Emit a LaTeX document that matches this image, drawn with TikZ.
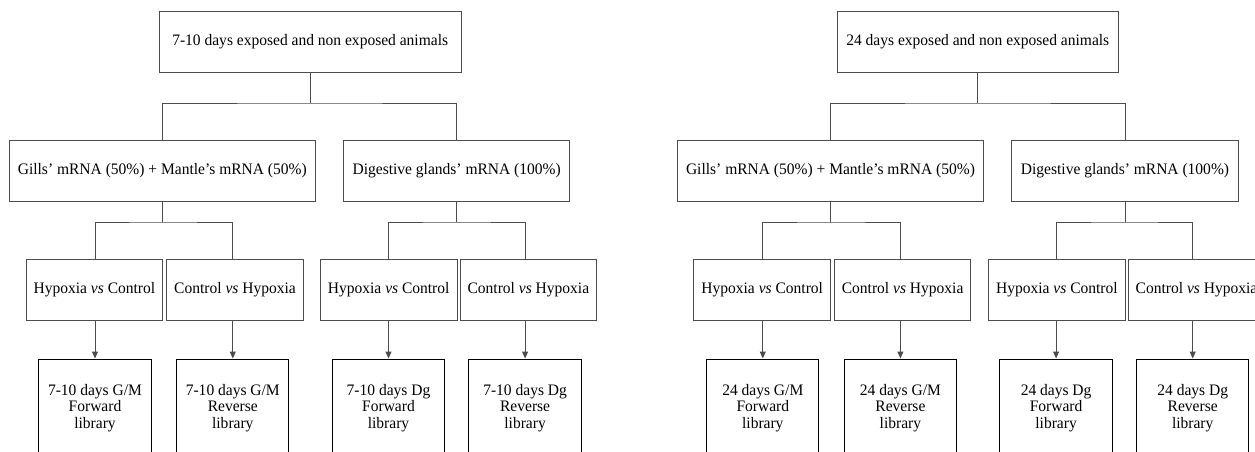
\documentclass[tikz,border=0pt]{standalone}
\usepackage{fontspec}
\setmainfont{Liberation Serif}[FakeStretch=0.97]
\usetikzlibrary{arrows.meta}
\definecolor{edge}{gray}{0.3}
\tikzset{
  box/.style={draw=edge, line width=1pt, inner sep=0pt, align=center,
    font=\fontsize{16}{16.5}\selectfont},
  topbox/.style={box, minimum height=61pt},
  midbox/.style={box, minimum height=61pt},
  cmpbox/.style={box, minimum width=136.6pt, minimum height=61pt},
  libbox/.style={box, draw=black, minimum width=112.3pt, minimum height=98pt},
  link/.style={draw=edge, line width=1pt},
  arr/.style={link, -{Triangle[width=6pt,length=7pt]}}
}
\begin{document}
\begin{tikzpicture}[x=1pt,y=-1pt]
\useasboundingbox (0,0) rectangle (1255,451);
\clip (0,0) rectangle (1255,451);
% ---------- left tree ----------
\node[topbox, minimum width=302pt] (t1) at (310.2,41.5) {7-10 days exposed and non exposed animals};
\node[midbox, minimum width=306pt] (g1) at (162.3,170.5) {Gills' mRNA (50\%) + Mantle's mRNA (50\%)};
\node[midbox, minimum width=226pt] (d1) at (456.7,170.5) {Digestive glands' mRNA (100\%)};
\node[cmpbox] (a1) at (94.4,289.5) {Hypoxia \textit{vs} Control};
\node[cmpbox] (b1) at (235,289.5) {Control \textit{vs} Hypoxia};
\node[cmpbox] (c1) at (388.7,289.5) {Hypoxia \textit{vs} Control};
\node[cmpbox] (e1) at (528.4,289.5) {Control \textit{vs} Hypoxia};
\node[libbox] (la1) at (95,408) {7-10 days G/M\\Forward\\library};
\node[libbox] (lb1) at (232.8,408) {7-10 days G/M\\Reverse\\library};
\node[libbox] (lc1) at (388.5,408) {7-10 days Dg\\Forward\\library};
\node[libbox] (le1) at (525.1,408) {7-10 days Dg\\Reverse\\library};
\coordinate (j1) at (310.2,103);
\coordinate (jg1) at (162.3,222);
\coordinate (jd1) at (456.7,222);
\draw[link] (t1.south) -- (j1);
\draw[link] (g1.north) |- (j1) -| (d1.north);
\draw[link] (g1.south) -- (jg1);
\draw[link] (la1.north |- a1.north) |- (jg1) -| (lb1.north |- b1.north);
\draw[link] (d1.south) -- (jd1);
\draw[link] (lc1.north |- c1.north) |- (jd1) -| (le1.north |- e1.north);
\draw[arr] (la1.north |- a1.south) -- (la1.north);
\draw[arr] (lb1.north |- b1.south) -- (lb1.north);
\draw[arr] (lc1.north |- c1.south) -- (lc1.north);
\draw[arr] (le1.north |- e1.south) -- (le1.north);
% ---------- right tree ----------
\node[topbox, minimum width=281pt] (t2) at (977.8,41.5) {24 days exposed and non exposed animals};
\node[midbox, minimum width=306.6pt] (g2) at (830.5,170.5) {Gills' mRNA (50\%) + Mantle's mRNA (50\%)};
\node[midbox, minimum width=227pt] (d2) at (1125,170.5) {Digestive glands' mRNA (100\%)};
\node[cmpbox] (a2) at (762.2,289.5) {Hypoxia \textit{vs} Control};
\node[cmpbox] (b2) at (902.6,289.5) {Control \textit{vs} Hypoxia};
\node[cmpbox] (c2) at (1056.9,289.5) {Hypoxia \textit{vs} Control};
\node[cmpbox] (e2) at (1196.5,289.5) {Control \textit{vs} Hypoxia};
\node[libbox] (la2) at (762.8,408) {24 days G/M\\Forward\\library};
\node[libbox] (lb2) at (900.4,408) {24 days G/M\\Reverse\\library};
\node[libbox] (lc2) at (1056.1,408) {24 days Dg\\Forward\\library};
\node[libbox] (le2) at (1192.7,408) {24 days Dg\\Reverse\\library};
\coordinate (j2) at (977.8,103);
\coordinate (jg2) at (830.5,222);
\coordinate (jd2) at (1125,222);
\draw[link] (t2.south) -- (j2);
\draw[link] (g2.north) |- (j2) -| (d2.north);
\draw[link] (g2.south) -- (jg2);
\draw[link] (la2.north |- a2.north) |- (jg2) -| (lb2.north |- b2.north);
\draw[link] (d2.south) -- (jd2);
\draw[link] (lc2.north |- c2.north) |- (jd2) -| (le2.north |- e2.north);
\draw[arr] (la2.north |- a2.south) -- (la2.north);
\draw[arr] (lb2.north |- b2.south) -- (lb2.north);
\draw[arr] (lc2.north |- c2.south) -- (lc2.north);
\draw[arr] (le2.north |- e2.south) -- (le2.north);
\end{tikzpicture}
\end{document}
